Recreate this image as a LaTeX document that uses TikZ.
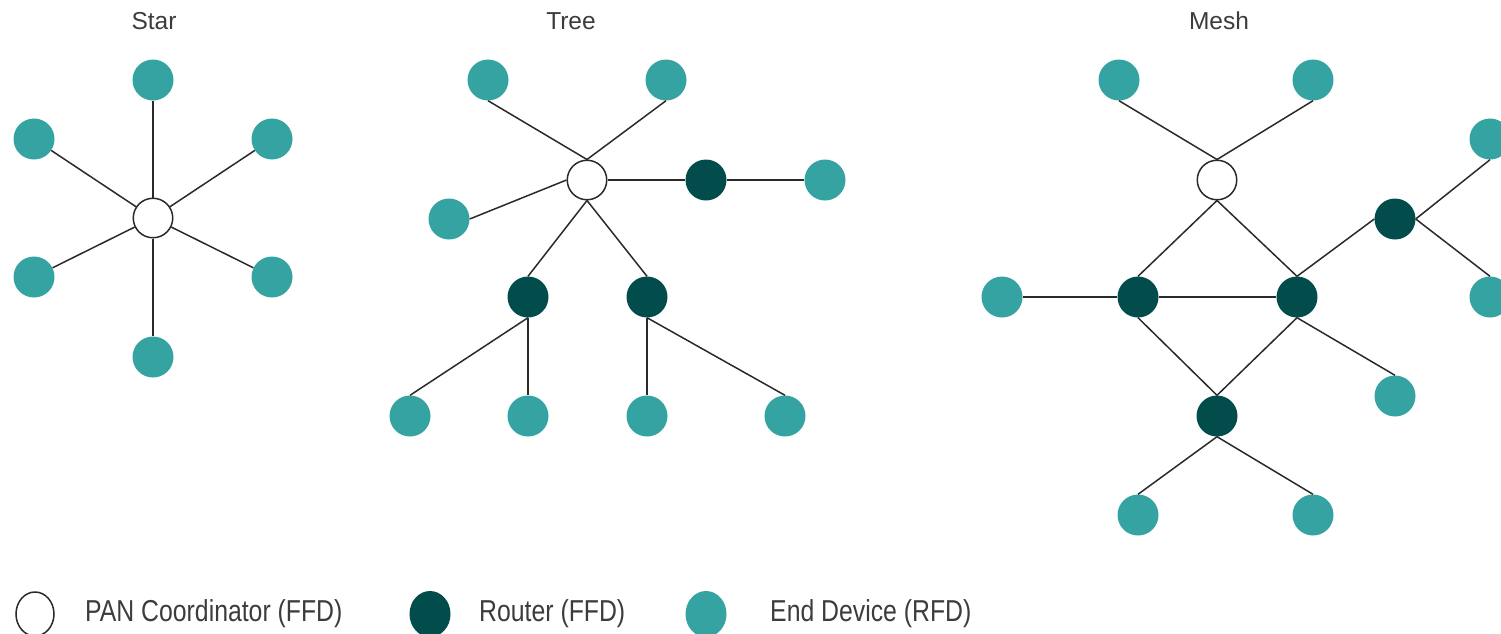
\documentclass[tikz,border=0pt]{standalone}
\usepackage{fontspec}
\setmainfont{Liberation Sans}
\usepackage{graphicx}
\definecolor{teal1}{HTML}{36A3A3}
\definecolor{router}{HTML}{034C4C}
\definecolor{linec}{HTML}{2A2A2A}
\definecolor{txt}{HTML}{3C3C3C}
\tikzset{
  enddev/.style={circle, fill=teal1, minimum size=41pt, inner sep=0pt},
  routerdev/.style={circle, fill=router, minimum size=41pt, inner sep=0pt},
  coorddev/.style={circle, draw=linec, line width=1.5pt, fill=white, minimum size=39.5pt, inner sep=0pt},
  link/.style={draw=linec, line width=1.5pt},
  title/.style={font=\fontsize{24.5}{28}\selectfont, text=txt, anchor=base, inner sep=0pt},
  legtext/.style={font=\fontsize{24.8}{28}\selectfont, text=txt, anchor=base west, inner sep=0pt},
}
\begin{document}
\begin{tikzpicture}[x=1pt,y=-1pt]
\useasboundingbox (0,0) rectangle (1501,633);
\clip (0,0) rectangle (1501,633);

% Titles
\node[title] (tstar) at (154,29) {Star};
\node[title] (ttree) at (571,29) {Tree};
\node[title] (tmesh) at (1219,29) {Mesh};

% ---------- Star ----------
\node[enddev] (s1) at (153,80) {};
\node[enddev] (s2) at (34,139) {};
\node[enddev] (s3) at (272,139) {};
\node[enddev] (s4) at (34,277) {};
\node[enddev] (s5) at (272,277) {};
\node[enddev] (s6) at (153,357) {};
\node[coorddev] (sc) at (153,218) {};
\foreach \n in {s1,s2,s3,s4,s5,s6} \draw[link] (sc) -- (\n);

% ---------- Tree ----------
\node[coorddev] (tc) at (587,180) {};
\node[enddev] (t1) at (488,80) {};
\node[enddev] (t2) at (666,80) {};
\node[enddev] (t3) at (449,219) {};
\node[routerdev] (tr1) at (706,180) {};
\node[enddev] (t4) at (825,180) {};
\node[routerdev] (tr2) at (528,297) {};
\node[routerdev] (tr3) at (647,297) {};
\node[enddev] (t5) at (410,416) {};
\node[enddev] (t6) at (528,416) {};
\node[enddev] (t7) at (647,416) {};
\node[enddev] (t8) at (785,416) {};
\draw[link] (t1.south) -- (tc.north);
\draw[link] (t2.south) -- (tc.north);
\draw[link] (t3.east) -- (tc.west);
\draw[link] (tc.east) -- (tr1.west);
\draw[link] (tr1.east) -- (t4.west);
\draw[link] (tc.south) -- (tr2.north);
\draw[link] (tc.south) -- (tr3.north);
\draw[link] (tr2.south) -- (t5.north);
\draw[link] (tr2.south) -- (t6.north);
\draw[link] (tr3.south) -- (t7.north);
\draw[link] (tr3.south) -- (t8.north);

% ---------- Mesh ----------
\node[coorddev] (mc) at (1217,180) {};
\node[enddev] (m1) at (1119,80) {};
\node[enddev] (m2) at (1313,80) {};
\node[routerdev] (mr1) at (1138,297) {};
\node[routerdev] (mr2) at (1297,297) {};
\node[routerdev] (mr3) at (1395,219) {};
\node[routerdev] (mr4) at (1217,416) {};
\node[enddev] (m3) at (1002,297) {};
\node[enddev] (m4) at (1490,139) {};
\node[enddev] (m5) at (1490,297) {};
\node[enddev] (m6) at (1395,396) {};
\node[enddev] (m7) at (1138,515) {};
\node[enddev] (m8) at (1313,515) {};
\draw[link] (m1.south) -- (mc.north);
\draw[link] (m2.south) -- (mc.north);
\draw[link] (mc.south) -- (mr1.north);
\draw[link] (mc.south) -- (mr2.north);
\draw[link] (m3.east) -- (mr1.west);
\draw[link] (mr1.east) -- (mr2.west);
\draw[link] (mr1.south) -- (mr4.north);
\draw[link] (mr2.south) -- (mr4.north);
\draw[link] (mr2.north) -- (mr3.west);
\draw[link] (mr3.east) -- (m4.south);
\draw[link] (mr3.east) -- (m5.north);
\draw[link] (mr2.south) -- (m6.north);
\draw[link] (mr4.south) -- (m7.north);
\draw[link] (mr4.south) -- (m8.north);

% ---------- Legend ----------
\draw[linec, line width=1.5pt, fill=white] (35,614) ellipse [x radius=19, y radius=22];
\fill[router] (430,614) ellipse [x radius=20.5, y radius=23];
\fill[teal1] (706,614) ellipse [x radius=20.5, y radius=23];
\node[legtext] (l1) at (85,621) {\scalebox{1}[1.22]{PAN Coordinator (FFD)}};
\node[legtext] (l2) at (479,621) {\scalebox{1}[1.22]{Router (FFD)}};
\node[legtext] (l3) at (770,621) {\scalebox{1}[1.22]{End Device (RFD)}};
\end{tikzpicture}
\end{document}
